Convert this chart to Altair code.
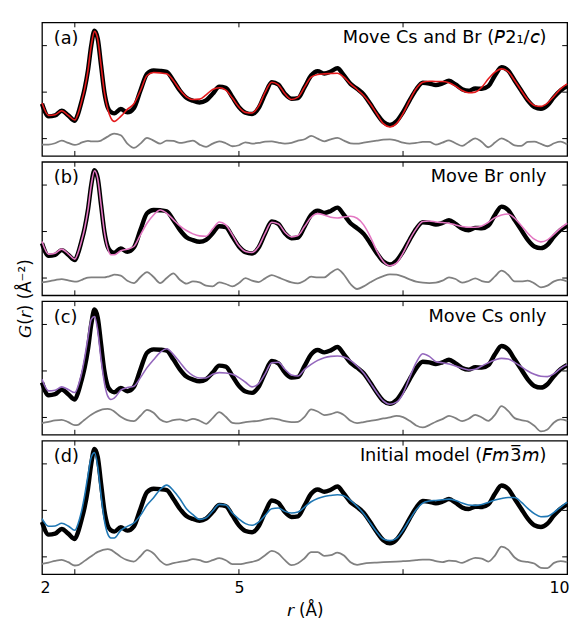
import altair as alt
import pandas as pd

FONT = "DejaVu Sans"

# r grid (Å)
R = [2.0, 2.1, 2.2, 2.3, 2.4, 2.5, 2.55, 2.6, 2.65, 2.7, 2.75, 2.8, 2.85, 2.9, 2.95, 3.0, 3.05,
     3.1, 3.2, 3.3, 3.4, 3.5, 3.6, 3.7, 3.8, 3.9, 4.0, 4.1, 4.2, 4.3, 4.4, 4.5, 4.6, 4.7, 4.8, 4.9,
     5.0, 5.1, 5.2, 5.3, 5.4, 5.5, 5.6, 5.7, 5.8, 5.9, 6.0, 6.1, 6.2, 6.3, 6.4, 6.5, 6.6, 6.7, 6.8, 6.9,
     7.0, 7.1, 7.2, 7.3, 7.4, 7.5, 7.6, 7.7, 7.8, 7.9, 8.0, 8.1, 8.2, 8.3, 8.4, 8.5, 8.6, 8.7, 8.8, 8.9,
     9.0, 9.1, 9.2, 9.3, 9.4, 9.5, 9.6, 9.7, 9.8, 9.9, 10.0]

# observed G(r)
DATA = [-3.5, -7.3, -7.0, -5.6, -7.0, -8.6, -6.5, -3.0, 1.0, 6.5, 14.0, 18.5, 16.0, 8.0, 0.0, -4.5, -6.0,
        -6.4, -5.1, -6.1, -4.8, 0.5, 5.5, 6.5, 6.4, 6.1, 3.5, 0.5, -1.7, -2.6, -3.1, -2.5, -0.5, 1.6, 1.3, -1.5,
        -4.5, -6.2, -6.6, -4.8, -0.5, 3.0, 2.3, -0.5, -2.0, -1.8, 1.5, 5.0, 6.3, 5.6, 6.2, 7.2, 5.0, 2.5, 1.0, -0.7,
        -3.5, -6.5, -9.0, -9.9, -8.8, -6.0, -2.5, 0.8, 2.8, 2.6, 2.1, 2.6, 3.4, 2.3, 0.9, 0.4, 1.1, 1.0, 1.8, 5.0,
        7.5, 6.5, 3.5, 0.5, -2.5, -4.5, -5.0, -4.0, -1.5, 0.5, 1.8]

# (a) Move Cs and Br
FIT_A = [-3.3, -7.0, -6.8, -5.6, -7.0, -8.4, -6.5, -3.0, 1.0, 6.5, 14.0, 18.3, 15.8, 8.0, 0.0, -5.0, -7.8,
         -8.8, -7.3, -5.2, -3.5, 0.5, 5.0, 5.9, 5.8, 5.5, 3.5, 0.7, -1.4, -2.2, -2.1, -0.8, 0.8, 1.3, 0.6, -1.8,
         -4.5, -6.1, -6.3, -4.2, 0.0, 3.0, 2.2, -0.5, -2.2, -1.5, 1.5, 4.5, 5.3, 5.5, 5.6, 5.7, 4.5, 2.5, 0.8, -1.0,
         -3.5, -6.5, -9.5, -10.5, -9.5, -6.5, -2.5, 1.0, 3.0, 3.3, 3.2, 3.2, 2.8, 1.8, 0.5, -0.2, 0.0, 1.5, 4.0, 6.0,
         7.0, 6.2, 3.5, 0.5, -2.3, -4.0, -4.3, -3.3, -1.2, 1.0, 2.5]
DIFF_A = [-15.8, -15.8, -15.4, -14.6, -15.3, -15.9, -15.7, -15.2, -14.9, -14.7, -14.8, -14.8, -14.8, -14.6, -14.0, -13.4, -12.8,
          -12.5, -13.0, -15.5, -16.8, -15.5, -13.8, -14.6, -15.5, -14.6, -14.7, -15.3, -15.0, -14.6, -15.8, -16.5, -15.5, -14.8, -15.4, -16.3,
          -16.0, -15.1, -15.5, -15.3, -14.9, -14.8, -15.2, -15.5, -15.3, -14.6, -14.2, -13.2, -14.0, -14.8, -14.2, -13.8, -14.6, -15.4, -15.5, -15.2,
          -14.9, -14.6, -14.3, -14.2, -14.6, -15.2, -15.5, -15.3, -15.0, -15.0, -15.8, -15.2, -14.5, -15.4, -16.2, -15.0, -13.9, -15.0, -16.6, -15.2,
          -13.9, -14.8, -16.0, -16.2, -15.0, -14.9, -15.6, -16.3, -15.4, -14.9, -15.8]

# (b) Move Br only
FIT_B = [-3.0, -6.8, -6.5, -5.3, -6.7, -8.3, -6.3, -3.0, 1.0, 6.5, 14.0, 18.3, 15.8, 8.0, 0.0, -5.0, -7.0,
         -7.0, -5.8, -5.3, -4.5, -1.0, 2.5, 5.0, 6.5, 5.5, 3.6, 1.7, 0.3, -0.7, -1.3, -1.4, 0.8, 2.9, 2.0, -1.0,
         -4.3, -6.0, -6.3, -4.5, -0.5, 2.8, 2.3, -0.2, -1.6, -1.2, 1.5, 4.3, 5.4, 5.0, 4.3, 4.1, 4.4, 4.6, 4.0, 2.0,
         -1.5, -5.8, -9.0, -10.3, -9.5, -6.5, -2.5, 0.8, 3.0, 3.2, 2.9, 2.7, 2.5, 2.0, 1.5, 1.3, 1.3, 1.7, 2.8, 4.2,
         5.0, 5.3, 4.0, 1.8, -0.5, -2.3, -3.1, -2.5, -0.8, 1.0, 2.5]
DIFF_B = [-15.3, -15.0, -14.6, -14.3, -14.7, -15.1, -15.0, -14.6, -14.2, -13.9, -13.8, -13.8, -13.8, -13.8, -13.8, -13.6, -13.3,
          -13.0, -13.3, -14.8, -15.5, -13.7, -12.2, -13.7, -15.5, -14.0, -12.6, -14.5, -15.7, -15.0, -15.3, -16.3, -16.5, -15.3, -15.8, -16.5,
          -15.5, -14.0, -14.8, -15.2, -14.1, -13.1, -13.8, -14.6, -15.3, -15.6, -14.8, -13.6, -13.8, -13.8, -12.4, -11.3, -13.0, -15.8, -17.3, -16.5,
          -15.3, -14.2, -13.4, -12.9, -13.0, -13.6, -14.4, -15.1, -15.4, -15.5, -15.4, -14.8, -13.8, -14.3, -15.4, -14.9, -14.1, -14.9, -15.2, -13.5,
          -11.8, -13.0, -15.0, -15.0, -14.8, -15.6, -16.8, -16.3, -15.0, -14.5, -15.0]

# (c) Move Cs only
FIT_C = [-2.5, -6.0, -5.8, -4.8, -5.6, -6.5, -4.5, -1.0, 4.0, 10.0, 15.5, 16.4, 12.0, 3.5, -3.5, -7.5, -8.6,
         -8.2, -5.8, -5.0, -4.6, -2.0, 1.0, 3.4, 5.6, 6.7, 5.0, 2.6, 0.2, -1.4, -2.1, -2.1, -1.0, -0.5, -0.6, -1.0,
         -2.0, -3.4, -4.8, -3.8, -0.8, 2.5, 2.6, 0.5, -1.2, -1.5, 0.5, 2.0, 3.2, 4.0, 4.4, 4.5, 4.2, 3.2, 1.5, -0.6,
         -3.5, -6.5, -9.0, -10.0, -9.4, -6.8, -2.0, 2.5, 5.2, 4.4, 2.8, 2.5, 2.1, 1.5, 0.8, 0.3, 0.5, 1.5, 2.5, 3.3,
         3.8, 3.6, 2.6, 1.3, 0.0, -1.0, -1.6, -1.7, -0.8, 0.8, 1.9]
DIFF_C = [-15.7, -15.3, -14.9, -14.7, -15.4, -16.3, -16.2, -15.5, -14.7, -13.9, -13.2, -12.6, -12.1, -11.7, -11.5, -11.4, -11.6,
          -12.2, -13.8, -14.8, -15.1, -13.5, -11.7, -12.6, -14.6, -15.4, -14.8, -14.6, -15.0, -14.4, -15.0, -15.9, -14.2, -12.4, -13.8, -15.6,
          -15.8, -15.4, -15.2, -15.0, -14.6, -14.3, -14.6, -15.1, -15.4, -15.3, -13.8, -11.6, -12.2, -13.3, -13.0, -12.4, -13.3, -15.0, -15.7, -15.4,
          -15.0, -14.7, -14.3, -14.0, -13.5, -13.9, -15.0, -16.4, -17.0, -16.3, -15.3, -14.5, -13.5, -14.2, -15.1, -14.4, -13.2, -14.0, -15.0, -13.2,
          -10.6, -12.0, -14.2, -14.8, -15.2, -16.5, -18.2, -17.6, -15.5, -14.6, -15.0]

# (d) Initial model
FIT_D = [-2.5, -4.8, -4.7, -3.9, -4.7, -6.0, -4.0, -0.5, 4.5, 10.5, 16.0, 17.4, 13.0, 4.5, -3.0, -7.0, -8.3,
         -8.3, -6.0, -4.8, -3.8, -1.5, 1.6, 3.8, 6.3, 7.6, 6.0, 3.5, 0.5, -1.3, -2.7, -2.2, -0.2, 1.8, 1.6, -0.8,
         -2.6, -4.0, -4.5, -3.5, -1.5, 0.5, 0.7, -0.3, -0.8, -0.5, 1.0, 2.6, 3.6, 4.2, 4.5, 4.7, 4.4, 3.0, 1.2, -1.0,
         -3.8, -6.5, -8.6, -9.1, -8.4, -6.0, -2.8, 0.2, 2.2, 2.8, 3.0, 3.2, 3.4, 3.0, 2.2, 1.6, 1.5, 1.8, 2.4, 3.1,
         3.6, 3.9, 3.9, 2.5, 0.6, -1.0, -1.9, -1.8, -0.6, 1.0, 2.5]
DIFF_D = [-16.1, -15.7, -15.2, -14.9, -15.6, -16.6, -16.5, -15.9, -15.2, -14.5, -13.8, -13.1, -12.5, -12.1, -11.8, -11.7, -11.9,
          -12.5, -14.0, -15.0, -15.4, -13.8, -12.0, -13.0, -15.2, -16.4, -15.9, -15.5, -15.2, -14.7, -15.0, -15.6, -15.0, -14.4, -15.0, -16.2,
          -16.2, -15.9, -15.5, -14.9, -13.5, -12.2, -13.0, -15.0, -16.5, -15.9, -14.4, -12.6, -12.6, -13.7, -13.5, -12.7, -13.6, -15.6, -16.4, -16.0,
          -15.8, -15.7, -15.6, -15.5, -15.4, -15.3, -15.2, -15.0, -14.8, -14.8, -15.3, -15.6, -15.1, -15.3, -15.8, -15.0, -14.3, -14.5, -15.4, -13.6,
          -10.9, -11.8, -14.2, -15.3, -15.5, -16.0, -17.3, -17.4, -15.8, -15.3, -15.6]

LETTERS = ["(a)", "(b)", "(c)", "(d)"]
TITLES = [
    "Move Cs and Br (\U0001D6172\u2081/\U0001D624)",
    "Move Br only",
    "Move Cs only",
    "Initial model (\U0001D60D\U0001D62E3\u0305\U0001D62E)",
]
COLORS = ["#e41a1c", "#e377c2", "#9467bd", "#1f77b4"]
FITS = [FIT_A, FIT_B, FIT_C, FIT_D]
DIFFS = [DIFF_A, DIFF_B, DIFF_C, DIFF_D]

X_TICKS = [2.5, 5.0, 7.5]
X_LABELS = [2, 5, 10]
Y_TICKS = [-14, 0, 14]

W, H = 533, 135.5
xs = alt.Scale(domain=[2, 10], nice=False, zero=False)
ys = alt.Scale(domain=[-19.2, 21.0], nice=False, zero=False)


def make_panel(i):
    n = len(R)
    df = pd.DataFrame({
        "r": R * 3,
        "G": DATA + FITS[i] + DIFFS[i],
        "s": ["data"] * n + ["fit"] * n + ["diff"] * n,
    })
    last = i == 3
    if last:
        xaxis = alt.Axis(values=X_LABELS, ticks=False, domain=False, grid=False,
                         labelFontSize=16, labelFont=FONT, labelPadding=6,
                         labelFlush=True, labelFlushOffset=2,
                         labelColor="black", minExtent=0,
                         title="\U0001D633 (\u00c5)", titleFont=FONT, titleFontSize=17,
                         titleFontWeight="normal", titlePadding=7, titleColor="black")
    else:
        xaxis = None
    if i == 1:
        yaxis = alt.Axis(labels=False, ticks=False, domain=False, grid=False,
                         minExtent=0, maxExtent=40,
                         title="\U0001D60E(\U0001D633) (\u00c5\u207b\u00b2)", titleFont=FONT,
                         titleFontSize=17, titleFontWeight="normal", titleColor="black",
                         titleY=H + 2.75, titleX=-17, titleBaseline="middle")
    else:
        yaxis = None

    base = alt.Chart(df)
    xenc = alt.X("r:Q", scale=xs, axis=xaxis)
    yenc = alt.Y("G:Q", scale=ys, axis=yaxis)

    data_line = base.transform_filter(alt.datum.s == "data").mark_line(
        color="black", strokeWidth=4.5, interpolate="monotone").encode(x=xenc, y=yenc)
    fit_line = base.transform_filter(alt.datum.s == "fit").mark_line(
        color=COLORS[i], strokeWidth=1.6, interpolate="monotone").encode(x=xenc, y=yenc)
    diff_line = base.transform_filter(alt.datum.s == "diff").mark_line(
        color="#808080", strokeWidth=1.8, interpolate="monotone").encode(x=xenc, y=yenc)

    xt = alt.Chart(pd.DataFrame({"t": X_TICKS}))
    yt = alt.Chart(pd.DataFrame({"t": Y_TICKS}))
    tick_top = xt.mark_rule(color="black", strokeWidth=1).encode(
        x=alt.X("t:Q", scale=xs, axis=xaxis), y=alt.value(0), y2=alt.value(5))
    tick_bot = xt.mark_rule(color="black", strokeWidth=1).encode(
        x=alt.X("t:Q", scale=xs, axis=xaxis), y=alt.value(H), y2=alt.value(H - 5))
    tick_l = yt.mark_rule(color="black", strokeWidth=1).encode(
        y=alt.Y("t:Q", scale=ys, axis=yaxis), x=alt.value(0), x2=alt.value(5))
    tick_r = yt.mark_rule(color="black", strokeWidth=1).encode(
        y=alt.Y("t:Q", scale=ys, axis=yaxis), x=alt.value(W), x2=alt.value(W - 5))

    lab_df = pd.DataFrame({"a": [LETTERS[i]], "b": [TITLES[i]]})
    letter = alt.Chart(lab_df).mark_text(
        align="left", baseline="middle", fontSize=18, font=FONT, color="black").encode(
        x=alt.value(12), y=alt.value(17), text="a:N")
    title = alt.Chart(lab_df).mark_text(
        align="right", baseline="middle", fontSize=18, font=FONT, color="black").encode(
        x=alt.value(W - 21), y=alt.value(16), text="b:N")

    return alt.layer(data_line, fit_line, diff_line, tick_top, tick_bot, tick_l, tick_r,
                     letter, title).properties(width=W, height=H)


chart = alt.vconcat(*[make_panel(i) for i in range(4)], spacing=5.5, bounds="flush").properties(
    padding={"left": 7.5, "top": 8, "right": 0, "bottom": 0}
).configure_view(stroke="black", strokeWidth=1.3)

chart.save("out.html", embed_options={"renderer": "svg", "actions": False})
